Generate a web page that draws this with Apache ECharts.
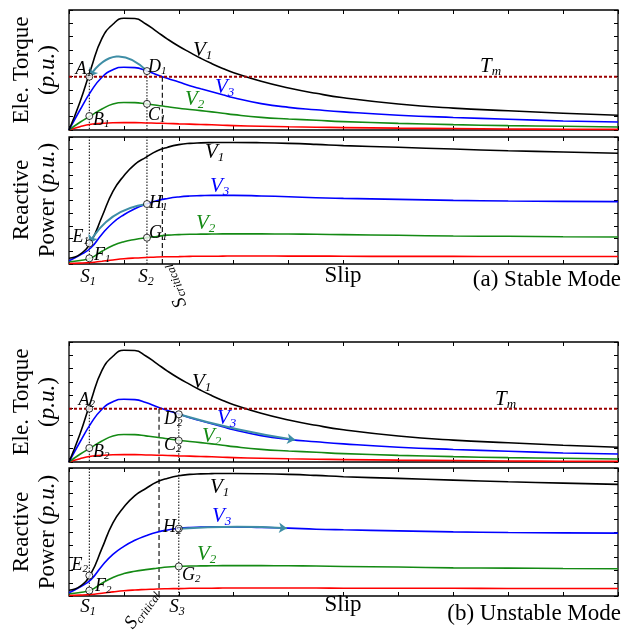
<!DOCTYPE html>
<html><head><meta charset="utf-8">
<script src="https://cdn.jsdelivr.net/npm/echarts@6/dist/echarts.min.js"></script>
<style>html,body{margin:0;padding:0;background:#fff}#c{width:638px;height:631px}</style>
</head><body><div id="c"></div>
<script>
// ---------------- data ----------------
const slip      = [0,0.2,0.4,0.6,0.8,1.0,1.2,1.4,1.6,1.8,2.0,2.2,2.4,2.6,2.8,3.0,3.5,4.0,4.5,5,6,7,8,9,10];
const torqueV1  = [0,2.1,4.6,6.87,7.93,8.38,8.36,7.95,7.38,6.8,6.28,5.82,5.38,4.98,4.62,4.3,3.65,3.15,2.75,2.42,1.95,1.64,1.44,1.26,1.11];
const torqueV3  = [0,1.5,2.9,3.96,4.52,4.71,4.68,4.46,4.14,3.86,3.6,3.32,3.09,2.87,2.64,2.42,1.98,1.7,1.52,1.36,1.11,0.94,0.81,0.68,0.6];
const torqueV2  = [0,0.58,1.08,1.57,1.95,2.06,2.05,1.96,1.86,1.74,1.63,1.54,1.45,1.36,1.26,1.15,0.95,0.83,0.73,0.63,0.5,0.4,0.33,0.28,0.23];
const torqueLow = [0,0.25,0.43,0.5,0.54,0.55,0.55,0.53,0.51,0.49,0.46,0.44,0.41,0.39,0.36,0.33,0.28,0.24,0.21,0.18,0.14,0.11,0.08,0.06,0.05];
const reactV1   = [0.45,0.75,1.75,3.72,5.72,6.95,7.85,8.4,8.9,9.2,9.4,9.5,9.54,9.56,9.57,9.57,9.55,9.5,9.42,9.32,9.19,9.05,8.92,8.82,8.72];
const reactV3   = [0.26,0.7,1.28,2.35,3.25,3.88,4.35,4.7,4.98,5.16,5.28,5.35,5.38,5.4,5.4,5.4,5.36,5.3,5.22,5.17,5.09,5.01,4.96,4.93,4.91];
const reactV2   = [0.18,0.27,0.47,1.0,1.45,1.75,1.93,2.06,2.17,2.27,2.31,2.34,2.35,2.36,2.37,2.37,2.37,2.36,2.34,2.31,2.26,2.2,2.18,2.15,2.13];
const reactLow  = [0.05,0.07,0.12,0.22,0.32,0.41,0.47,0.51,0.55,0.57,0.58,0.6,0.61,0.61,0.62,0.63,0.63,0.62,0.62,0.61,0.6,0.6,0.59,0.59,0.59];
const Tm = 4;
const S1 = 0.37, S2 = 1.42, S3 = 2.0, SCritA = 1.70, SCritB = 1.64;
// marker points [slip, value]
const ptsStableTorque   = [[S1,4.0],[S2,4.42],[S2,1.96],[S1,1.05]];   // A1 D1 C1 B1
const ptsStableReact    = [[S1,1.63],[S1,0.45],[S2,4.72],[S2,2.07]];  // E1 F1 H1 G1
const ptsUnstableTorque = [[S1,4.0],[S3,3.58],[S3,1.6],[S1,1.05]];    // A2 D2 C2 B2
const ptsUnstableReact  = [[S1,1.6],[S1,0.42],[S3,5.26],[S3,2.31]];   // E2 F2 H2 G2
// transition arrows [from, to]
const arrowStableTorque   = [[S2,4.42],[S1,4.0]];
const arrowStableReact    = [[S2,4.72],[S1,1.63]];
const arrowUnstableTorque = [[S3,3.58],[4.12,1.66]];
const arrowUnstableReact  = [[S3,5.26],[3.97,5.3]];

// ---------------- styling ----------------
const BLACK='#000', BLUE='#0000ff', GREEN='#148a14', RED='#ff0000', TEAL='#3f8ea6', DRED='#9a0000';
const SERIF='"Liberation Serif","Times New Roman",serif';
const grids = [
  {left:69,right:20,top:10,height:120},
  {left:69,right:20,top:137,height:127},
  {left:69,right:20,top:342,height:120},
  {left:69,right:20,top:468,height:128}
].map(g=>Object.assign(g,{show:true,borderColor:'#000',borderWidth:1.3,backgroundColor:'rgba(0,0,0,0)'}));
const yMax=[9,10,9,10];
const xAxis=[], yAxis=[];
for(let g=0;g<4;g++){
  ['bottom','top'].forEach(p=>xAxis.push({gridIndex:g,type:'value',min:0,max:10,interval:1,position:p,
    axisLine:{show:false,onZero:false},axisTick:{inside:true,length:4,lineStyle:{color:'#000',width:1}},
    axisLabel:{show:false},splitLine:{show:false}}));
  ['left','right'].forEach(p=>yAxis.push({gridIndex:g,type:'value',min:0,max:yMax[g],interval:1,position:p,
    axisLine:{show:false,onZero:false},axisTick:{inside:true,length:4,lineStyle:{color:'#000',width:1}},
    axisLabel:{show:false},splitLine:{show:false}}));
}
const series=[];
function curve(g,ys,color,w){
  series.push({type:'line',xAxisIndex:2*g,yAxisIndex:2*g,data:slip.map((x,i)=>[x,ys[i]]),
    smooth:0.5,showSymbol:false,symbol:'none',lineStyle:{color,width:w||1.6},z:3,silent:true});
}
function seg(g,pts,color,w,type,z){
  series.push({type:'line',xAxisIndex:2*g,yAxisIndex:2*g,data:pts,showSymbol:false,symbol:'none',
    lineStyle:{color,width:w,type},z:z||2,silent:true});
}
function marks(g,pts){
  series.push({type:'scatter',xAxisIndex:2*g,yAxisIndex:2*g,data:pts,symbol:'circle',symbolSize:7,
    itemStyle:{color:'#fff',borderColor:'#000',borderWidth:1},z:10,silent:true});
}
function arrow(g,pts,curv){
  series.push({type:'lines',coordinateSystem:'cartesian2d',xAxisIndex:2*g,yAxisIndex:2*g,
    data:[{coords:pts}],symbol:['none','arrow'],symbolSize:8,
    lineStyle:{color:TEAL,width:2,curveness:curv,opacity:1},z:6,silent:true});
}
const DOT=[1.5,1.5], DASH=[5,3];
for(const g of [0,2]){
  curve(g,torqueLow,RED); curve(g,torqueV2,GREEN); curve(g,torqueV3,BLUE); curve(g,torqueV1,BLACK);
  seg(g,[[0,Tm],[10,Tm]],DRED,2,[3,2],4);
}
for(const g of [1,3]){
  curve(g,reactLow,RED); curve(g,reactV2,GREEN); curve(g,reactV3,BLUE); curve(g,reactV1,BLACK);
}
// stable mode reference lines
seg(0,[[S1,Tm],[S1,0]],BLACK,1,DOT); seg(1,[[S1,0],[S1,10]],BLACK,1,DOT);
seg(0,[[S2,ptsStableTorque[1][1]],[S2,0]],BLACK,1,DOT); seg(1,[[S2,0],[S2,10]],BLACK,1,DOT);
seg(0,[[SCritA,Tm],[SCritA,0]],BLACK,1.1,DASH); seg(1,[[SCritA,0],[SCritA,10]],BLACK,1.1,DASH);
// unstable mode reference lines
seg(2,[[S1,Tm],[S1,0]],BLACK,1,DOT); seg(3,[[S1,0],[S1,10]],BLACK,1,DOT);
seg(2,[[S3,ptsUnstableTorque[1][1]],[S3,0]],BLACK,1,DOT); seg(3,[[S3,0],[S3,10]],BLACK,1,DOT);
seg(2,[[SCritB,Tm],[SCritB,0]],BLACK,1.1,DASH); seg(3,[[SCritB,0],[SCritB,10]],BLACK,1.1,DASH);
arrow(0,arrowStableTorque,-0.6); arrow(1,arrowStableReact,-0.25);
arrow(2,arrowUnstableTorque,-0.035); arrow(3,arrowUnstableReact,0.03);
marks(0,ptsStableTorque); marks(1,ptsStableReact); marks(2,ptsUnstableTorque); marks(3,ptsUnstableReact);

// ---------------- texts ----------------
function lab(x,y,main,sub,color,opt){
  opt=opt||{}; const size=opt.size||18, ss=opt.sub||Math.round(size*0.62);
  return {type:'text',x,y,rotation:opt.rot||0,z:100,silent:true,
    style:{text:'{m|'+main+'}{s|'+sub+'}',align:opt.align||'left',verticalAlign:'middle',fill:color||'#000',
      font:'italic '+size+'px '+SERIF,
      rich:{m:{font:'italic '+size+'px '+SERIF,fill:color||'#000'},
            s:{font:'italic '+ss+'px '+SERIF,fill:color||'#000',padding:[Math.round(size*0.5),0,0,0]}}}};
}
function plain(x,y,text,opt){
  opt=opt||{};
  return {type:'text',x,y,rotation:opt.rot||0,z:100,silent:true,
    style:{text,align:opt.align||'center',verticalAlign:'middle',fill:'#000',font:'23px '+SERIF,
      rich:{i:{font:'italic 23px '+SERIF,fill:'#000'}}}};
}
const R90=Math.PI/2;
const graphic=[
  plain(22,70,'Ele. Torque',{rot:R90}), plain(48,70,'({i|p.u.})',{rot:R90}),
  plain(22,200,'Reactive',{rot:R90}), plain(48,200,'Power ({i|p.u.})',{rot:R90}),
  plain(22,402,'Ele. Torque',{rot:R90}), plain(48,402,'({i|p.u.})',{rot:R90}),
  plain(22,532,'Reactive',{rot:R90}), plain(48,532,'Power ({i|p.u.})',{rot:R90}),
  plain(343,276,'Slip'), plain(621,280,'(a) Stable Mode',{align:'right'}),
  plain(343,605,'Slip'), plain(621,614,'(b) Unstable Mode',{align:'right'}),
  // stable torque
  lab(193,50,'V','1',BLACK,{size:21}), lab(215,87,'V','3',BLUE,{size:21}), lab(185,99,'V','2',GREEN,{size:21}),
  lab(480,66,'T','m',BLACK,{size:21}),
  lab(92,69,'A','1',BLACK,{align:'right'}), lab(148,67,'D','1'), lab(148,115,'C','1'), lab(93,120,'B','1'),
  // stable reactive
  lab(205,152,'V','1',BLACK,{size:21}), lab(210,186,'V','3',BLUE,{size:21}), lab(196,223,'V','2',GREEN,{size:21}),
  lab(89,237,'E','1',BLACK,{align:'right'}), lab(94,255,'F','1'), lab(149,203,'H','1'), lab(149,233,'G','1'),
  lab(88,277,'S','1',BLACK,{size:19,align:'center'}), lab(146,277,'S','2',BLACK,{size:19,align:'center'}),
  lab(182,307,'S','critical',BLACK,{size:19,sub:12,rot:113*Math.PI/180}),
  // unstable torque
  lab(192,382,'V','1',BLACK,{size:21}), lab(217,418,'V','3',BLUE,{size:21}), lab(202,436,'V','2',GREEN,{size:21}),
  lab(495,399,'T','m',BLACK,{size:21}),
  lab(95,400,'A','2',BLACK,{align:'right'}), lab(164,419,'D','2'), lab(164,445,'C','2'), lab(93,452,'B','2'),
  // unstable reactive
  lab(210,487,'V','1',BLACK,{size:21}), lab(212,516,'V','3',BLUE,{size:21}), lab(197,554,'V','2',GREEN,{size:21}),
  lab(88,565,'E','2',BLACK,{align:'right'}), lab(95,586,'F','2'), lab(163,527,'H','2'), lab(182,575,'G','2'),
  lab(88,607,'S','1',BLACK,{size:19,align:'center'}), lab(177,607,'S','3',BLACK,{size:19,align:'center'}),
  lab(129,627,'S','critical',BLACK,{size:19,sub:12,rot:55*Math.PI/180})
];

const chart=echarts.init(document.getElementById('c'),null,{renderer:'canvas'});
chart.setOption({animation:false,grid:grids,xAxis,yAxis,series,graphic});
</script></body></html>
